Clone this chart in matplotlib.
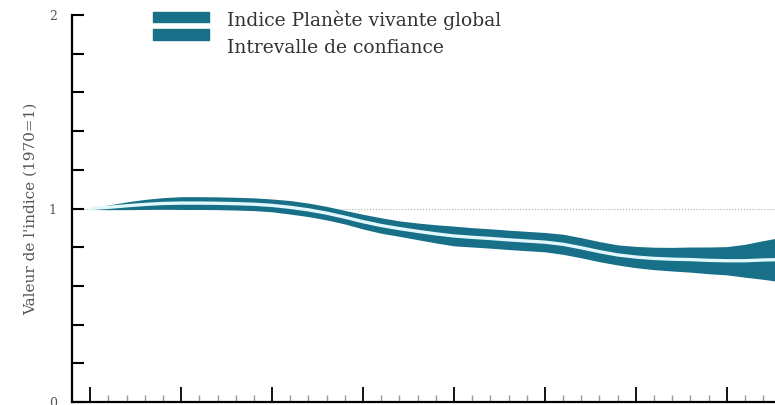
import matplotlib.pyplot as plt
from matplotlib.patches import Rectangle
import numpy as np

years = np.arange(1970, 2009)
index = [1.000, 1.006, 1.014, 1.021, 1.026, 1.028, 1.028, 1.027, 1.025, 1.022,
         1.016, 1.006, 0.993, 0.976, 0.955, 0.932, 0.912, 0.896, 0.882, 0.869,
         0.858, 0.851, 0.845, 0.838, 0.832, 0.826, 0.815, 0.797, 0.777, 0.760,
         0.749, 0.742, 0.738, 0.736, 0.732, 0.730, 0.730, 0.734, 0.736]
ci_low = [0.995, 0.994, 0.994, 0.995, 0.996, 0.995, 0.995, 0.994, 0.992, 0.989,
          0.983, 0.971, 0.958, 0.941, 0.920, 0.894, 0.872, 0.856, 0.839, 0.822,
          0.807, 0.801, 0.795, 0.788, 0.782, 0.776, 0.763, 0.745, 0.725, 0.708,
          0.694, 0.684, 0.677, 0.671, 0.663, 0.657, 0.645, 0.634, 0.621]
ci_high = [1.005, 1.018, 1.034, 1.047, 1.056, 1.061, 1.061, 1.060, 1.058, 1.055,
           1.049, 1.041, 1.028, 1.011, 0.990, 0.970, 0.952, 0.936, 0.925, 0.916,
           0.909, 0.901, 0.895, 0.888, 0.882, 0.876, 0.867, 0.849, 0.829, 0.812,
           0.804, 0.800, 0.799, 0.801, 0.801, 0.803, 0.815, 0.834, 0.851]

labels = ["Indice Planète vivante global", "Intrevalle de confiance"]
teal = "#176f88"

plt.rcParams['font.family'] = ['DejaVu Serif']

fig = plt.figure(figsize=(7.75, 4.05), dpi=100)
ax = fig.add_axes([72/775, 3/405, 703/775, 387/405])

ax.axhline(1, color="#b0b0b0", lw=0.8, ls=":", zorder=1)
ax.fill_between(years, ci_low, ci_high, color=teal, lw=0, zorder=2)
ax.plot(years, index, color="#e2f7fb", lw=2.4, zorder=3, solid_capstyle="butt")

ax.set_xlim(1969.0, 2007.65)
ax.set_ylim(0, 2)

for s in ["top", "right"]:
    ax.spines[s].set_visible(False)
ax.spines["left"].set_linewidth(1.6)
ax.spines["bottom"].set_linewidth(1.6)

ax.set_xticks(np.arange(1970, 2008, 5))
ax.set_xticks(np.arange(1970, 2008, 1), minor=True)
ax.tick_params(axis="x", which="major", direction="in", length=11, width=1.3,
               labelbottom=False)
ax.tick_params(axis="x", which="minor", direction="in", length=5, width=1.0,
               color="#999999")

ax.set_yticks([0, 1, 2])
ax.set_yticklabels(["0", "1", "2"])
ax.set_yticks(np.arange(0, 2.01, 0.2), minor=True)
ax.tick_params(axis="y", which="both", direction="in", length=8.5, width=1.5,
               labelsize=9, labelcolor="#555555", pad=11)

ax.set_ylabel("Valeur de l'indice (1970=1)", fontsize=11, color="#555555",
              labelpad=8)

# legend drawn by hand: two stacked bars and two lines of text
fig.patches.append(Rectangle((153/775, 1 - 22/405), 56/775, 10/405,
                             transform=fig.transFigure, color=teal))
fig.patches.append(Rectangle((153/775, 1 - 40/405), 56/775, 11/405,
                             transform=fig.transFigure, color=teal))
fig.text(227/775, 1 - 20/405, labels[0], fontsize=13.5, color="#333333", va="center")
fig.text(227/775, 1 - 48/405, labels[1], fontsize=13.5, color="#333333", va="center")

fig.savefig("out.png", dpi=100)
